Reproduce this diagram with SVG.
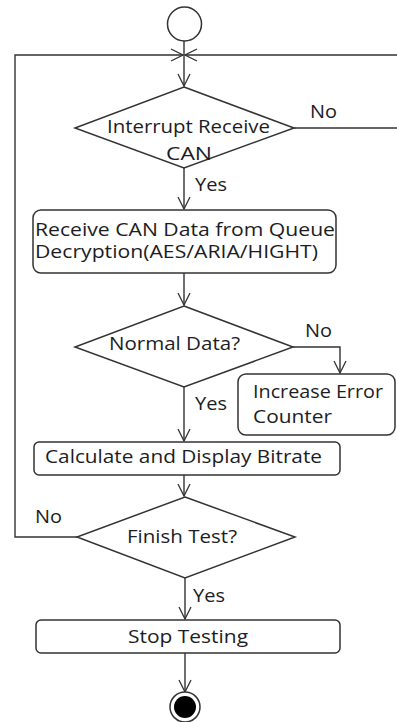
<svg xmlns="http://www.w3.org/2000/svg" width="397" height="722" viewBox="0 0 397 722">
<defs>
<marker id="arr" viewBox="0 0 14 14" refX="13" refY="7" markerWidth="14" markerHeight="14" markerUnits="userSpaceOnUse" orient="auto">
<path d="M1,1 L13,7 L1,13" fill="none" stroke="#333" stroke-width="1.3"/>
</marker>
<style>
.s{fill:#fff;stroke:#333;stroke-width:1.5}
.c{fill:none;stroke:#333;stroke-width:1.4}
.t{font-family:"Open Sans","Noto Sans",sans-serif;font-size:17.5px;fill:#1c1c24}
</style>
</defs>
<g id="connectors">
<path class="c" d="M184,41 V86" marker-end="url(#arr)"/>
<path class="c" d="M77,537 H15 V55 H183" marker-end="url(#arr)"/>
<path class="c" d="M294,128 H397 M397,55 H185" marker-end="url(#arr)"/>
<path class="c" d="M184,168 V209" marker-end="url(#arr)"/>
<path class="c" d="M184,273 V305" marker-end="url(#arr)"/>
<path class="c" d="M293,347 H340 V373" marker-end="url(#arr)"/>
<path class="c" d="M184,387 V441" marker-end="url(#arr)"/>
<path class="c" d="M184,475 V496" marker-end="url(#arr)"/>
<path class="c" d="M185,578 V619" marker-end="url(#arr)"/>
<path class="c" d="M185,653 V692" marker-end="url(#arr)"/>
<text class="t" x="310" y="118" textLength="27" lengthAdjust="spacingAndGlyphs">No</text>
<text class="t" x="195" y="191" textLength="32" lengthAdjust="spacingAndGlyphs">Yes</text>
<text class="t" x="305" y="337" textLength="27" lengthAdjust="spacingAndGlyphs">No</text>
<text class="t" x="195" y="410" textLength="32" lengthAdjust="spacingAndGlyphs">Yes</text>
<text class="t" x="35" y="523" textLength="27" lengthAdjust="spacingAndGlyphs">No</text>
<text class="t" x="193" y="602" textLength="32" lengthAdjust="spacingAndGlyphs">Yes</text>
</g>
<g id="start"><circle class="s" cx="184.5" cy="24" r="17"/></g>
<g id="d1"><polygon class="s" points="184,87 294,128 184,168 75,128"/>
<text class="t" x="107" y="133" textLength="163" lengthAdjust="spacingAndGlyphs">Interrupt Receive</text><text class="t" x="166" y="160" textLength="46" lengthAdjust="spacingAndGlyphs">CAN</text></g>
<g id="b1"><rect class="s" x="33" y="210" width="303" height="63" rx="8"/>
<text class="t" x="35" y="236" textLength="300" lengthAdjust="spacingAndGlyphs">Receive CAN Data from Queue</text><text class="t" x="35" y="258" textLength="283" lengthAdjust="spacingAndGlyphs">Decryption(AES/ARIA/HIGHT)</text></g>
<g id="d2"><polygon class="s" points="184,306 293,347 184,387 75,347"/>
<text class="t" x="109" y="350" textLength="131" lengthAdjust="spacingAndGlyphs">Normal Data?</text></g>
<g id="b2"><rect class="s" x="238" y="374" width="157" height="61" rx="8"/>
<text class="t" x="253" y="398" textLength="130" lengthAdjust="spacingAndGlyphs">Increase Error</text><text class="t" x="253" y="423" textLength="79" lengthAdjust="spacingAndGlyphs">Counter</text></g>
<g id="b3"><rect class="s" x="34" y="442" width="306" height="33" rx="5"/>
<text class="t" x="45" y="463" textLength="277" lengthAdjust="spacingAndGlyphs">Calculate and Display Bitrate</text></g>
<g id="d3"><polygon class="s" points="185,497 295,537 185,578 77,537"/>
<text class="t" x="127" y="543" textLength="110" lengthAdjust="spacingAndGlyphs">Finish Test?</text></g>
<g id="b4"><rect class="s" x="36" y="620" width="304" height="33" rx="5"/>
<text class="t" x="128" y="643" textLength="120" lengthAdjust="spacingAndGlyphs">Stop Testing</text></g>
<g id="end"><circle class="s" cx="185" cy="707" r="15"/><circle cx="185" cy="707" r="11" fill="#000"/></g>
</svg>
